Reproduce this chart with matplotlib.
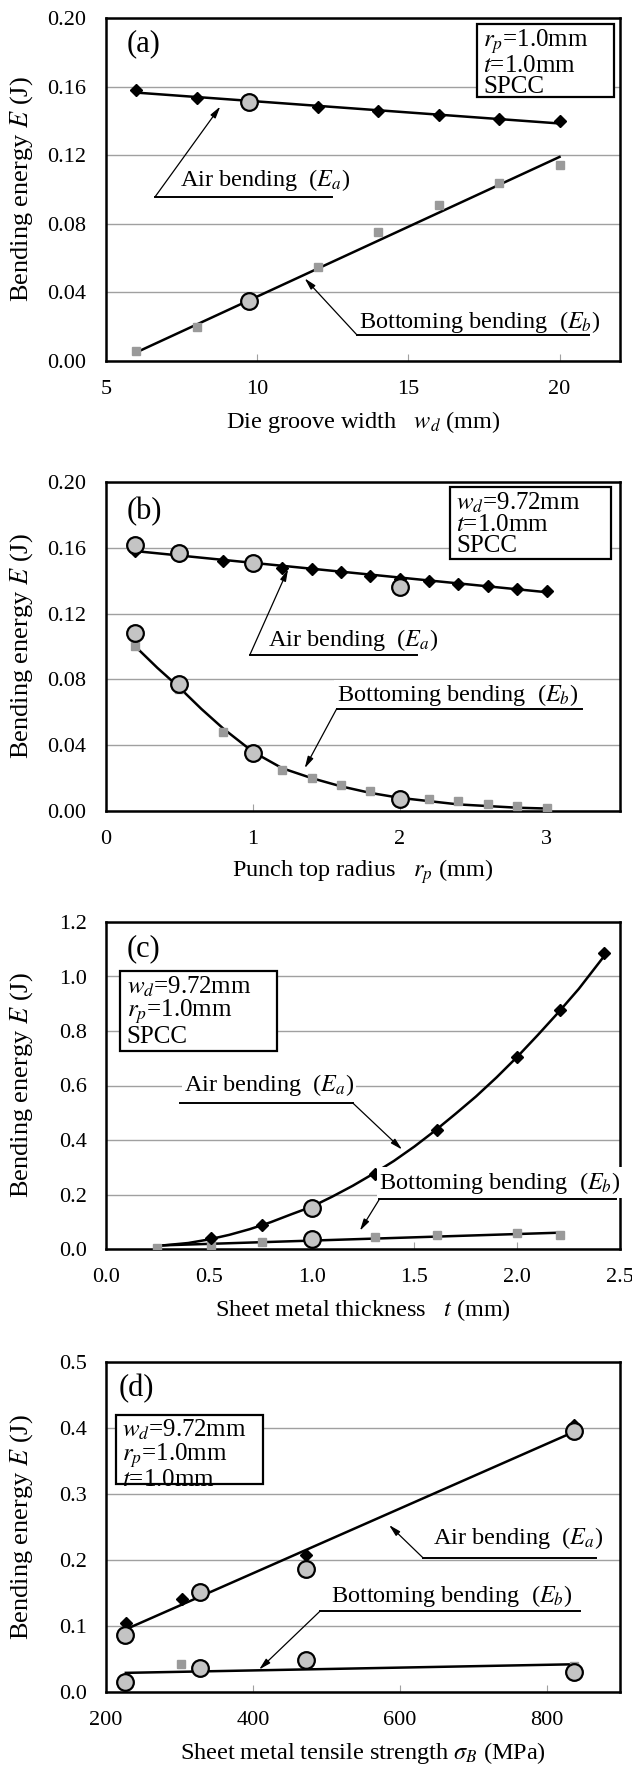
import matplotlib.pyplot as plt
from matplotlib.patches import Rectangle
from matplotlib.ticker import FormatStrFormatter

plt.rcParams['font.family'] = 'Liberation Serif'
plt.rcParams['mathtext.fontset'] = 'stix'

# (a) die groove width
wd_air = [6, 8, 12, 14, 16, 18, 20]
Ea_wd = [0.158, 0.1535, 0.148, 0.146, 0.1435, 0.141, 0.140]
wd_bot = [6, 8, 12, 14, 16, 18, 20]
Eb_wd = [0.006, 0.020, 0.055, 0.075, 0.091, 0.104, 0.114]
wd_circ = [9.72, 9.72]
E_circ_wd = [0.151, 0.035]
wd_fit = [6, 20]
Ea_wd_fit = [0.1565, 0.1385]
Eb_wd_fit = [0.005, 0.119]

# (b) punch top radius
rp_air = [0.2, 0.5, 0.8, 1.0, 1.2, 1.4, 1.6, 1.8, 2.0, 2.2, 2.4, 2.6, 2.8, 3.0]
Ea_rp = [0.158, 0.155, 0.152, 0.150, 0.148, 0.147, 0.145, 0.143, 0.141, 0.140, 0.138, 0.137, 0.135, 0.134]
rp_bot = [0.2, 0.5, 0.8, 1.0, 1.2, 1.4, 1.6, 1.8, 2.0, 2.2, 2.4, 2.6, 2.8, 3.0]
Eb_rp = [0.100, 0.074, 0.048, 0.035, 0.025, 0.020, 0.016, 0.012, 0.009, 0.007, 0.006, 0.004, 0.003, 0.002]
rp_circ = [0.2, 0.5, 1.0, 2.0, 0.2, 0.5, 1.0, 2.0]
E_circ_rp = [0.162, 0.157, 0.151, 0.136, 0.108, 0.077, 0.035, 0.007]
rp_fit_air = [0.2, 3.0]
Ea_rp_fit = [0.158, 0.133]
rp_fit_bot = [0.2, 0.35, 0.5, 0.65, 0.8, 1.0, 1.2, 1.4, 1.6, 1.8, 2.0, 2.2, 2.4, 2.6, 2.8, 3.0]
Eb_rp_fit = [0.100, 0.087, 0.075, 0.062, 0.050, 0.036, 0.026, 0.020, 0.015, 0.011, 0.008, 0.006, 0.004, 0.003, 0.002, 0.0015]

# (c) sheet thickness
t_air = [0.51, 0.76, 1.31, 1.61, 2.0, 2.21, 2.42]
Ea_t = [0.040, 0.088, 0.276, 0.435, 0.704, 0.876, 1.087]
t_bot = [0.25, 0.51, 0.76, 1.31, 1.61, 2.0, 2.21]
Eb_t = [0.003, 0.015, 0.027, 0.045, 0.051, 0.057, 0.052]
t_circ = [1.0, 1.0]
E_circ_t = [0.150, 0.035]
t_fit_air = [0.26, 0.4, 0.5, 0.6, 0.7, 0.8, 0.9, 1.0, 1.1, 1.2, 1.3, 1.4, 1.5,
             1.6, 1.7, 1.8, 1.9, 2.0, 2.1, 2.2, 2.3, 2.42]
Ea_t_fit = [0.012, 0.022, 0.035, 0.052, 0.073, 0.098, 0.127, 0.155, 0.192, 0.232, 0.276, 0.323, 0.376,
            0.434, 0.496, 0.56, 0.63, 0.705, 0.785, 0.868, 0.955, 1.072]
t_fit_bot = [0.26, 2.21]
Eb_t_fit = [0.013, 0.060]

# (d) tensile strength
sb_air = [227, 304, 472, 837]
Ea_sb = [0.104, 0.141, 0.207, 0.405]
sb_bot = [302, 838]
Eb_sb = [0.042, 0.040]
sb_circ = [226, 328, 472, 838, 226, 328, 472, 838]
E_circ_sb = [0.087, 0.152, 0.187, 0.395, 0.015, 0.036, 0.048, 0.031]
sb_fit = [227, 837]
Ea_sb_fit = [0.095, 0.394]
Eb_sb_fit = [0.029, 0.042]

W, H = 632, 1766
left, right = 106, 620
boxes = [(18, 361), (482, 811), (922, 1249), (1362, 1692)]

fig = plt.figure(figsize=(W / 100, H / 100), dpi=100)
axes = []
for top, bot in boxes:
    axes.append(fig.add_axes([left / W, 1 - bot / H, (right - left) / W, (bot - top) / H]))


def setup(ax, xlim, xticks, ylim, yticks, yfmt, xfmt, xlabel, h):
    ax.set_xlim(xlim)
    ax.set_ylim(ylim)
    ax.set_xticks(xticks)
    ax.set_yticks(yticks)
    ax.yaxis.set_major_formatter(FormatStrFormatter(yfmt))
    ax.xaxis.set_major_formatter(FormatStrFormatter(xfmt))
    ax.set_axisbelow(True)
    ax.grid(axis='y', color='#a0a0a0', lw=1.0)
    ax.tick_params(axis='y', length=0, pad=14, labelsize=16)
    ax.tick_params(axis='x', direction='in', length=5, color='#a0a0a0', pad=14, labelsize=16)
    for s in ax.spines.values():
        s.set_linewidth(1.8)
    ax.set_xlabel(xlabel, fontsize=17.5, va='center')
    ax.xaxis.set_label_coords(0.5, -61 / h)
    ax.set_ylabel('Bending energy $E$ (J)', fontsize=19, va='center')
    ax.yaxis.set_label_coords(-84 / (right - left), 0.5)


def marks(ax, xa, ya, xb, yb, xc, yc):
    ax.plot(xb, yb, 's', color='#9a9a9a', ms=6, zorder=3)
    ax.plot(xa, ya, 'D', color='black', ms=6, zorder=4)
    ax.plot(xc, yc, 'o', ms=12, mfc='#c4c4c4', mec='black', mew=1.6, ls='none', zorder=5)


def arrow(ax, x0, y0, x1, y1):
    ax.annotate('', xy=(x1, y1), xytext=(x0, y0),
                arrowprops=dict(arrowstyle='-|>,head_length=0.7,head_width=0.18',
                                lw=0.9, color='black', shrinkA=0, shrinkB=0), zorder=6)


def label(ax, text, tx, ty, ux0, ux1, uy):
    ax.text(tx, ty, text, fontsize=17.5, ha='left', va='center', zorder=6,
            bbox=dict(fc='white', ec='none', pad=1.5))
    ax.plot([ux0, ux1], [uy, uy], color='black', lw=1.4, zorder=6)


def info(ax, lines, x0, y0, x1, y1):
    ax.add_patch(Rectangle((x0, y0), x1 - x0, y1 - y0, transform=ax.transAxes,
                           fc='white', ec='black', lw=1.6, zorder=6))
    ax.text(x0 + 0.012, y1 - 0.01, '\n'.join(lines), transform=ax.transAxes,
            fontsize=18, ha='left', va='top', linespacing=0.95, zorder=7)


# (a)
ax = axes[0]
h = boxes[0][1] - boxes[0][0]
setup(ax, (5, 22), [5, 10, 15, 20], (0, 0.2), [0, 0.04, 0.08, 0.12, 0.16, 0.20], '%.2f', '%d',
      'Die groove width   $w_d$ (mm)', h)
ax.plot(wd_fit, Ea_wd_fit, color='black', lw=1.8, zorder=2)
ax.plot(wd_fit, Eb_wd_fit, color='black', lw=1.8, zorder=2)
marks(ax, wd_air, Ea_wd, wd_bot, Eb_wd, wd_circ, E_circ_wd)
label(ax, 'Air bending  ($E_a$)', 7.46, 0.1056, 6.63, 12.48, 0.0959)
arrow(ax, 6.63, 0.0959, 8.78, 0.1484)
label(ax, 'Bottoming bending  ($E_b$)', 13.37, 0.0229, 13.3, 20.98, 0.0152)
arrow(ax, 13.3, 0.0152, 11.57, 0.0482)
info(ax, ['$r_p$=1.0mm', '$t$=1.0mm', 'SPCC'], 0.722, 0.769, 0.988, 0.983)
ax.text(0.04, 0.925, '(a)', transform=ax.transAxes, fontsize=22, va='center')

# (b)
ax = axes[1]
h = boxes[1][1] - boxes[1][0]
setup(ax, (0, 3.5), [0, 1, 2, 3], (0, 0.2), [0, 0.04, 0.08, 0.12, 0.16, 0.20], '%.2f', '%d',
      'Punch top radius   $r_p$ (mm)', h)
ax.plot(rp_fit_air, Ea_rp_fit, color='black', lw=1.8, zorder=2)
ax.plot(rp_fit_bot, Eb_rp_fit, color='black', lw=1.8, zorder=2)
marks(ax, rp_air, Ea_rp, rp_bot, Eb_rp, rp_circ, E_circ_rp)
label(ax, 'Air bending  ($E_a$)', 1.10, 0.104, 0.98, 2.12, 0.095)
arrow(ax, 0.98, 0.095, 1.24, 0.147)
label(ax, 'Bottoming bending  ($E_b$)', 1.57, 0.0705, 1.57, 3.24, 0.062)
arrow(ax, 1.57, 0.062, 1.353, 0.026)
info(ax, ['$w_d$=9.72mm', '$t$=1.0mm', 'SPCC'], 0.669, 0.765, 0.983, 0.985)
ax.text(0.04, 0.909, '(b)', transform=ax.transAxes, fontsize=22, va='center')

# (c)
ax = axes[2]
h = boxes[2][1] - boxes[2][0]
setup(ax, (0, 2.5), [0, 0.5, 1.0, 1.5, 2.0, 2.5], (0, 1.2), [0, 0.2, 0.4, 0.6, 0.8, 1.0, 1.2], '%.1f', '%.1f',
      'Sheet metal thickness   $t$ (mm)', h)
ax.plot(t_fit_air, Ea_t_fit, color='black', lw=1.8, zorder=2)
ax.plot(t_fit_bot, Eb_t_fit, color='black', lw=1.8, zorder=2)
marks(ax, t_air, Ea_t, t_bot, Eb_t, t_circ, E_circ_t)
label(ax, 'Air bending  ($E_a$)', 0.38, 0.60, 0.36, 1.2, 0.536)
arrow(ax, 1.2, 0.536, 1.44, 0.365)
label(ax, 'Bottoming bending  ($E_b$)', 1.33, 0.244, 1.33, 2.48, 0.183)
arrow(ax, 1.33, 0.183, 1.235, 0.067)
info(ax, ['$w_d$=9.72mm', '$r_p$=1.0mm', 'SPCC'], 0.028, 0.606, 0.332, 0.85)
ax.text(0.04, 0.919, '(c)', transform=ax.transAxes, fontsize=22, va='center')

# (d)
ax = axes[3]
h = boxes[3][1] - boxes[3][0]
setup(ax, (200, 900), [200, 400, 600, 800], (0, 0.5), [0, 0.1, 0.2, 0.3, 0.4, 0.5], '%.1f', '%d',
      'Sheet metal tensile strength $\\sigma_B$ (MPa)', h)
ax.plot(sb_fit, Ea_sb_fit, color='black', lw=1.8, zorder=2)
ax.plot(sb_fit, Eb_sb_fit, color='black', lw=1.8, zorder=2)
marks(ax, sb_air, Ea_sb, sb_bot, Eb_sb, sb_circ, E_circ_sb)
label(ax, 'Air bending  ($E_a$)', 645, 0.233, 632, 867, 0.203)
arrow(ax, 632, 0.203, 585.5, 0.253)
label(ax, 'Bottoming bending  ($E_b$)', 506, 0.145, 491, 845, 0.122)
arrow(ax, 491, 0.122, 408.5, 0.034)
info(ax, ['$w_d$=9.72mm', '$r_p$=1.0mm', '$t$=1.0mm'], 0.019, 0.63, 0.306, 0.84)
ax.text(0.025, 0.919, '(d)', transform=ax.transAxes, fontsize=22, va='center')

fig.savefig('out.png', dpi=100)
